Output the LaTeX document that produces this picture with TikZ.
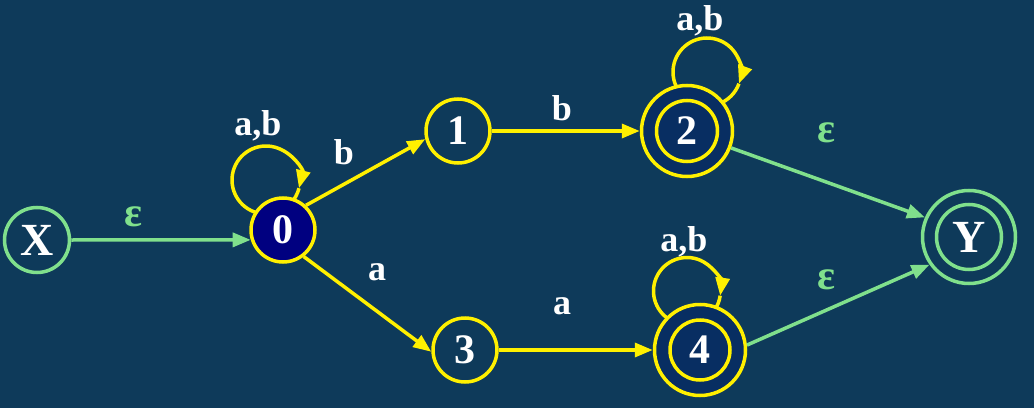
\documentclass[tikz,border=0pt]{standalone}
\usepackage{fontspec}
\setmainfont{Liberation Serif}
\usetikzlibrary{arrows.meta,calc}

\definecolor{bg}{RGB}{14,58,90}
\definecolor{startfill}{RGB}{0,0,128}
\definecolor{acceptfill}{RGB}{8,46,98}
\definecolor{yel}{RGB}{255,240,0}
\definecolor{grn}{RGB}{128,224,140}

\begin{document}
\begin{tikzpicture}[x=1pt,y=1pt,
  state/.style={circle, draw=yel, line width=3.5pt, inner sep=0pt,
    minimum size=64pt, text=white,
    font=\fontsize{42}{42}\selectfont\bfseries},
  accept/.style={state, minimum size=91pt, fill=acceptfill},
  outer/.style={circle, draw=grn, line width=3.5pt, inner sep=0pt,
    text=white, font=\fontsize{46}{46}\selectfont\bfseries},
  ring/.style={line width=3.5pt},
  tr/.style={draw=yel, line width=3.5pt, -{Triangle[length=18pt,width=14pt]}},
  trplain/.style={draw=yel, line width=3.5pt},
  eps/.style={draw=grn, line width=3.5pt, -{Triangle[length=18pt,width=14pt]}},
  lbl/.style={text=white, inner sep=0pt,
    font=\fontsize{36}{36}\selectfont\bfseries},
  epslbl/.style={text=grn, inner sep=0pt,
    font=\fontsize{42}{42}\selectfont\bfseries}
]
% background
\fill[bg] (0,0) rectangle (1034,408);
\useasboundingbox (0,0) rectangle (1034,408);

% loop centres (placed relative to their states)
\coordinate (p0) at (283,178);
\coordinate (p2) at (687,277);
\coordinate (p4) at (700,58);
\coordinate (l0) at ($(p0)+(-17,50)$);
\coordinate (l2) at ($(p2)+(20,59)$);
\coordinate (l4) at ($(p4)+(-13,59)$);

% self loops (drawn first, the states cover their ends)
\draw[tr] (l0) ++(255:34) arc[start angle=255, end angle=-14, radius=34];
\draw[trplain] (l0) ++(-14:34) arc[start angle=-14, end angle=-45, radius=34];
\draw[tr] (l2) ++(215:34) arc[start angle=215, end angle=-20, radius=34];
\draw[trplain] (l2) ++(-20:34) arc[start angle=-20, end angle=-70, radius=34];
\draw[tr] (l4) ++(240:33.5) arc[start angle=240, end angle=-8, radius=33.5];
\draw[trplain] (l4) ++(-8:33.5) arc[start angle=-8, end angle=-60, radius=33.5];

% states
\node[outer, minimum size=65pt] (nX) at (37,168) {X};
\node[state, fill=startfill] (n0) at (p0) {0};
\node[state] (n1) at (458,277) {1};
\node[state] (n3) at (465,58) {3};
\node[accept] (n2) at (p2) {2};
\draw[yel, ring] (n2) circle[radius=30.5];
\node[accept] (n4) at (p4) {4};
\draw[yel, ring] (n4) circle[radius=30];
\node[outer, minimum size=93pt] (nY) at (969,171) {Y};
\draw[grn, ring] (nY) circle[radius=32.5];

% transitions
\draw[eps] (nX.east) -- (n0.197);
\draw[tr] (n0.47) -- (n1.194);
\draw[tr] (n0.-52) -- (n3.183);
\draw[tr] (n1.east) -- (n2.west);
\draw[tr] (n3.east) -- (n4.west);
\draw[eps] (n2.-21) -- (nY.156);
\draw[eps] (n4.6) -- (nY.215);

% transition labels
\node[lbl] (t0) at (258,282) {a,b};
\node[lbl] (t2) at (700,387) {a,b};
\node[lbl] (t4) at (684,166) {a,b};
\node[lbl] (t01) at (344,256) {b};
\node[lbl] (t03) at (377,136) {a};
\node[lbl] (t12) at (562,300) {b};
\node[lbl] (t34) at (562,102) {a};
\node[epslbl] (tX) at (133,191) {ε};
\node[epslbl] (t2Y) at (826,275) {ε};
\node[epslbl] (t4Y) at (826,128) {ε};
\end{tikzpicture}
\end{document}
